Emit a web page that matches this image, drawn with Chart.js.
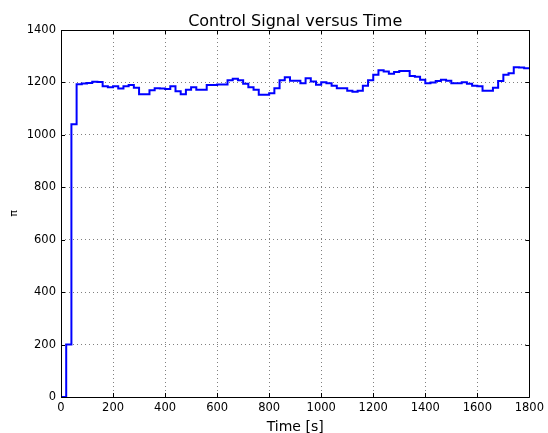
<!DOCTYPE html>
<html>
<head>
<meta charset="utf-8">
<script src="https://cdn.jsdelivr.net/npm/chart.js@4.4.1/dist/chart.umd.min.js"></script>
<style>
html,body{margin:0;padding:0;background:#fff;}
#wrap{width:548px;height:433px;position:relative;}
</style>
</head>
<body>
<div id="wrap"><canvas id="c" width="548" height="433"></canvas></div>
<script>
// Data (step signal, each value holds for 20 s)
const times = [0,20,40,60,80,100,120,140,160,180,200,220,240,260,280,300,320,340,360,380,
  400,420,440,460,480,500,520,540,560,580,600,620,640,660,680,700,720,740,760,780,
  800,820,840,860,880,900,920,940,960,980,1000,1020,1040,1060,1080,1100,1120,1140,1160,1180,
  1200,1220,1240,1260,1280,1300,1320,1340,1360,1380,1400,1420,1440,1460,1480,1500,1520,1540,1560,1580,
  1600,1620,1640,1660,1680,1700,1720,1740,1760,1780,1800];
const controlValues = [0,200,1040,1193,1196,1198,1203,1202,1185,1182,1185,1177,1185,1190,1180,1155,1155,1170,1178,1177,
  1175,1185,1166,1155,1172,1182,1172,1172,1190,1190,1192,1192,1208,1214,1208,1195,1182,1172,1153,1153,
  1159,1178,1208,1220,1206,1206,1197,1216,1204,1191,1201,1197,1187,1178,1178,1168,1164,1168,1187,1208,
  1229,1246,1242,1233,1240,1244,1244,1225,1222,1210,1197,1200,1205,1210,1206,1197,1197,1201,1195,1187,
  1185,1168,1168,1180,1205,1229,1235,1258,1257,1254,1254];
const xTicks = [0,200,400,600,800,1000,1200,1400,1600,1800];
const yTicks = [0,200,400,600,800,1000,1200,1400];
const titleText = 'Control Signal versus Time';

const FONT = "'DejaVu Sans', sans-serif";

const frameTicks = {
  id: 'frameTicks',
  afterDraw(chart) {
    const ctx = chart.ctx, a = chart.chartArea;
    const xs = chart.scales.x, ys = chart.scales.y;
    ctx.save();
    ctx.strokeStyle = '#000';
    ctx.lineWidth = 1;
    ctx.beginPath();
    ctx.rect(Math.round(a.left) + 0.5, Math.round(a.top) + 0.5, Math.round(a.right - a.left), Math.round(a.bottom - a.top));
    ctx.stroke();
    ctx.beginPath();
    const L = 4;
    xTicks.forEach(v => {
      const px = Math.round(xs.getPixelForValue(v)) + 0.5;
      ctx.moveTo(px, a.bottom); ctx.lineTo(px, a.bottom - L);
      ctx.moveTo(px, a.top); ctx.lineTo(px, a.top + L);
    });
    yTicks.forEach(v => {
      const py = Math.round(ys.getPixelForValue(v)) + 0.5;
      ctx.moveTo(a.left, py); ctx.lineTo(a.left + L, py);
      ctx.moveTo(a.right, py); ctx.lineTo(a.right - L, py);
    });
    ctx.stroke();
    // title centred over the plot area
    ctx.fillStyle = '#000';
    ctx.font = "16px " + FONT;
    ctx.textAlign = 'center';
    ctx.textBaseline = 'alphabetic';
    ctx.fillText(titleText, (a.left + a.right) / 2, 26);
    ctx.restore();
  }
};

const pts = times.map((t, i) => ({x: t, y: controlValues[i]}));

new Chart(document.getElementById('c'), {
  type: 'line',
  data: {
    datasets: [{
      data: pts,
      borderColor: '#0000ff',
      borderWidth: 2,
      pointRadius: 0,
      stepped: true,
      fill: false
    }]
  },
  options: {
    responsive: false,
    animation: false,
    layout: { padding: { left: 0, right: 16, top: 30, bottom: 0 } },
    plugins: {
      legend: { display: false },
      tooltip: { enabled: false },
      title: { display: false }
    },
    scales: {
      x: {
        type: 'linear',
        min: 0, max: 1800,
        afterBuildTicks(s) { s.ticks = xTicks.map(v => ({value: v})); },
        afterFit(s) { s.height = 36; },
        grid: { color: '#808080', lineWidth: 1, drawTicks: false },
        border: { display: false, dash: [1, 3] },
        ticks: { color: '#000', font: { family: FONT, size: 11.5 }, padding: 4, maxRotation: 0, autoSkip: false,
                 callback: v => String(v) },
        title: { display: true, text: 'Time [s]', color: '#000', font: { family: FONT, size: 14 }, padding: { top: 0, bottom: -3 } }
      },
      y: {
        type: 'linear',
        min: 0, max: 1400,
        afterBuildTicks(s) { s.ticks = yTicks.map(v => ({value: v})); },
        afterFit(s) { s.width = 61; },
        grid: { color: '#808080', lineWidth: 1, drawTicks: false },
        border: { display: false, dash: [1, 3] },
        ticks: { color: '#000', font: { family: FONT, size: 11.5 }, padding: 5, autoSkip: false,
                 callback: v => String(v) },
        title: { display: true, text: 'π', color: '#000', font: { family: FONT, size: 11 }, padding: { top: 8, bottom: 0 } }
      }
    }
  },
  plugins: [frameTicks]
});
</script>
</body>
</html>
